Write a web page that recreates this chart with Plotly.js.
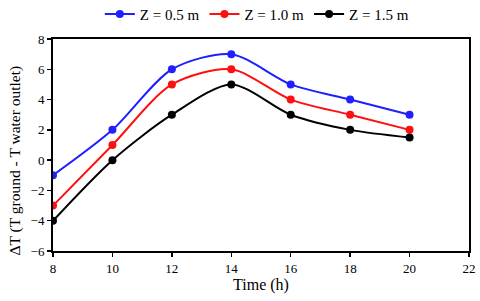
<!DOCTYPE html>
<html><head><meta charset="utf-8">
<script src="https://cdn.plot.ly/plotly-3.0.1.min.js"></script>
<style>html,body{margin:0;padding:0;background:#fff}#chart{width:480px;height:301px}</style>
</head><body><div id="chart"></div>
<script>
const time = [8, 10, 12, 14, 16, 18, 20];
const z05 = [-1, 2, 6, 7, 5, 4, 3];
const z10 = [-3, 1, 5, 6, 4, 3, 2];
const z15 = [-4, 0, 3, 5, 3, 2, 1.5];
const names = ['Z = 0.5 m', 'Z = 1.0 m', 'Z = 1.5 m'];
const colors = ['#1f1fff', '#ff0f0f', '#000000'];
const yTitle = 'ΔT (T ground - T water outlet)';
const series = [z05, z10, z15];
const traces = series.map((y, i) => ({
  x: time, y: y, name: names[i], type: 'scatter', mode: 'lines+markers',
  line: {color: colors[i], width: 2, shape: 'spline', smoothing: 0.8},
  marker: {color: colors[i], size: 8}
}));
const font = {family: '"Liberation Serif", "Times New Roman", serif', color: '#000'};
const layout = {
  width: 480, height: 301,
  margin: {l: 53, r: 11, t: 39, b: 50, autoexpand: false},
  paper_bgcolor: '#fff', plot_bgcolor: '#fff',
  font: Object.assign({size: 13}, font),
  showlegend: true,
  legend: {orientation: 'h', x: 0.49, xanchor: 'center', y: 1.195, yanchor: 'top',
    font: Object.assign({size: 15}, font), itemwidth: 30, tracegroupgap: 0},
  xaxis: {range: [8, 22], tickvals: [8,10,12,14,16,18,20,22], showgrid: false, zeroline: false,
    showline: true, linecolor: '#000', linewidth: 2, mirror: true,
    ticks: 'outside', ticklen: 4, tickwidth: 1.5, tickcolor: '#000',
    tickfont: Object.assign({size: 13}, font),
    title: {text: 'Time (h)', font: Object.assign({size: 16}, font), standoff: 3}},
  yaxis: {range: [-6, 8], tickvals: [-6,-4,-2,0,2,4,6,8], showgrid: false, zeroline: false,
    showline: true, linecolor: '#000', linewidth: 2, mirror: true,
    ticks: 'outside', ticklen: 4, tickwidth: 1.5, tickcolor: '#000',
    tickfont: Object.assign({size: 13}, font)},
  annotations: [{text: yTitle, xref: 'paper', yref: 'paper', x: -0.0925, y: 0.425,
    xanchor: 'center', yanchor: 'middle', textangle: -90, showarrow: false,
    font: Object.assign({size: 15.5}, font)}]
};
Plotly.newPlot('chart', traces, layout, {displayModeBar: false, staticPlot: true});
</script></body></html>
